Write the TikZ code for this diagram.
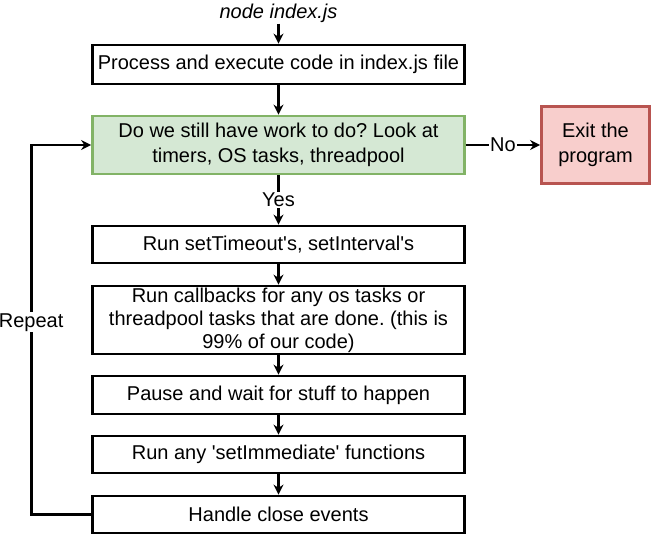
\documentclass[tikz,border=0pt]{standalone}
\usepackage{fontspec}
\setmainfont{Liberation Sans}
\usepackage{xcolor}
\usetikzlibrary{arrows.meta,positioning}
\definecolor{checkfill}{HTML}{D5E8D4}
\definecolor{checkdraw}{HTML}{82B366}
\definecolor{exitfill}{HTML}{F8CECC}
\definecolor{exitdraw}{HTML}{B85450}
\frenchspacing
\tikzset{
>={Stealth[length=10pt,width=10pt]},
  stepbox/.style={
    rectangle,
    draw=black, line width=2.8pt,
    minimum width=372pt,
    align=center,
    inner sep=0pt,
    font=\fontsize{20}{24.5}\selectfont},
  checkbox/.style={
    stepbox,
    fill=checkfill,
    draw=checkdraw},
  exitbox/.style={
    stepbox,
    fill=exitfill,
    draw=exitdraw,
    minimum width=108pt,
    minimum height=77pt},
  line/.style={draw, line width=2.8pt},
  tag/.style={fill=white, inner sep=1pt, font=\fontsize{20}{24}\selectfont}
}

\begin{document}
\begin{tikzpicture}[x=1pt, y=-1pt]
    \useasboundingbox (0,0) rectangle (654,538);

    \node[tag, font=\fontsize{20}{24}\selectfont\itshape] (start) at (278.5,13) {node index.js};
    \node[stepbox, minimum height=39pt] (process) at (278.5,64.5) {Process and execute code in index.js file};
    \node[checkbox, minimum height=58pt] (check) at (278.5,145) {Do we still have work to do? Look at\\timers, OS tasks, threadpool};
    \node[exitbox] (exit) at (595.5,145) {Exit the\\program};
    \node[stepbox, minimum height=37pt] (timers) at (278.5,244.5) {Run setTimeout\textquotesingle s, setInterval\textquotesingle s};
    \node[stepbox, minimum height=68pt, font=\fontsize{20}{23}\selectfont] (callbacks) at (278.5,320) {Run callbacks for any os tasks or\\threadpool tasks that are done. (this is\\99\% of our code)};
    \node[stepbox, minimum height=38pt] (pause) at (278.5,395) {Pause and wait for stuff to happen};
    \node[stepbox, minimum height=37pt] (immediate) at (278.5,454.5) {Run any \textquotesingle setImmediate\textquotesingle{} functions};
    \node[stepbox, minimum height=37pt] (close) at (278.5,514.5) {Handle close events};

    % main flow
    \draw[line, ->] (start) -- (process);
    \draw[line, ->] (process) -- (check);
    \draw[line, ->] (check) -- node[tag] {No} (exit);
    \draw[line, ->] (check) -- node[tag] {Yes} (timers);
    \draw[line, ->] (timers) -- (callbacks);
    \draw[line, ->] (callbacks) -- (pause);
    \draw[line, ->] (pause) -- (immediate);
    \draw[line, ->] (immediate) -- (close);

    % loop back
    \draw[line, ->] (close.west) -- ++(-60,0) coordinate (back)
        -- node[tag, pos=0.52] {Repeat} (back |- check.west) -- (check.west);
\end{tikzpicture}
\end{document}
